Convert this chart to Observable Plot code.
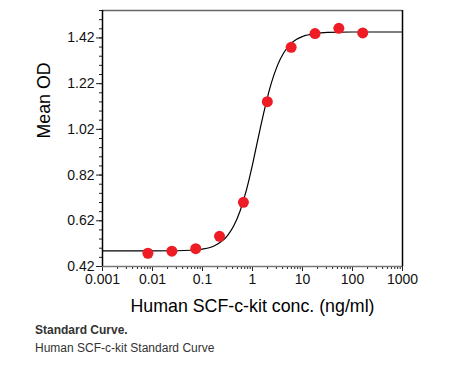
<!DOCTYPE html>
<html>
<head>
<meta charset="utf-8">
<script src="https://cdn.jsdelivr.net/npm/d3@7"></script>
<script src="https://cdn.jsdelivr.net/npm/@observablehq/plot@0.6"></script>
<style>
  body { margin: 0; background: #fff; font-family: "Liberation Sans", Arial, sans-serif; }
  #caption { padding-left: 35px; margin-top: 1px; color: #333; font-size: 12px; line-height: 18px; }
  #caption b { font-weight: bold; }
</style>
</head>
<body>
<div id="chart"></div>
<div id="caption"><b>Standard Curve.</b><br>Human SCF-c-kit Standard Curve</div>
<script>
// Measured points (concentration ng/ml, mean OD)
const conc = [0.0081, 0.0244, 0.0732, 0.219, 0.658, 1.98, 5.93, 17.8, 53.3, 160];
const od   = [0.478, 0.487, 0.498, 0.552, 0.701, 1.141, 1.379, 1.439, 1.462, 1.442];

// Fitted curve
const curveX = [0.001, 0.01, 0.0316, 0.0562, 0.1, 0.178, 0.316, 0.422, 0.562, 0.75, 1, 1.33, 1.78, 2.37, 3.16, 4.22, 5.62, 7.5, 10, 17.8, 31.6, 100, 1000];
const curveY = [0.488, 0.488, 0.489, 0.491, 0.496, 0.512, 0.555, 0.598, 0.662, 0.752, 0.866, 0.993, 1.116, 1.221, 1.300, 1.355, 1.391, 1.413, 1.426, 1.439, 1.444, 1.446, 1.446];

// Tick values
const xMajor = [0.001, 0.01, 0.1, 1, 10, 100, 1000];
const xMinor = [];
for (let d = 0.001; d < 999; d *= 10) for (let m = 2; m <= 9; m++) xMinor.push(+(d * m).toPrecision(2));
const yMajor = [0.42, 0.62, 0.82, 1.02, 1.22, 1.42];
const yMinor = d3.range(0, 29).map(i => +(0.42 + i * 0.04).toFixed(2));

const xLabel = "Human SCF-c-kit conc. (ng/ml)";
const yLabel = "Mean OD";

const points = conc.map((c, i) => ({c, v: od[i]}));
const curve = curveX.map((c, i) => ({c, v: curveY[i]}));

const chart = Plot.plot({
  width: 471,
  height: 320,
  marginLeft: 102,
  marginRight: 69,
  marginTop: 10,
  marginBottom: 54,
  style: {fontFamily: "'Liberation Sans', Arial, sans-serif", color: "#111", background: "#fff"},
  x: {type: "log", domain: [0.001, 1000]},
  y: {domain: [0.42, 1.54]},
  marks: [
    Plot.axisX({ticks: xMinor, tickSize: 3, tickFormat: () => "", label: null, stroke: "#222"}),
    Plot.axisX({ticks: xMajor, tickSize: 5, tickPadding: 3, fontSize: 14, label: null, stroke: "#222",
      tickFormat: d => ({0.001: "0.001", 0.01: "0.01", 0.1: "0.1", 1: "1", 10: "10", 100: "100", 1000: "1000"})[d]}),
    Plot.axisY({ticks: yMinor, tickSize: 3, tickFormat: () => "", label: null, stroke: "#222"}),
    Plot.axisY({ticks: yMajor, tickSize: 6, tickPadding: 2, fontSize: 14, label: null, stroke: "#222",
      tickFormat: d => d.toFixed(2)}),
    Plot.ruleY([0.42], {stroke: "#777", strokeWidth: 1.5}),
    Plot.ruleY([1.54], {stroke: "#666", strokeWidth: 1.5}),
    Plot.ruleX([1000], {stroke: "#000", strokeWidth: 1.5}),
    Plot.ruleX([0.001], {stroke: "#000", strokeWidth: 1.5}),
    Plot.line(curve, {x: "c", y: "v", curve: "monotone-x", stroke: "#000", strokeWidth: 1.2}),
    Plot.dot(points, {x: "c", y: "v", r: 5.5, fill: "#ee1c25", stroke: "none"}),
    Plot.text([xLabel], {frameAnchor: "bottom", dy: 45, fontSize: 17.8, fill: "#000", text: d => d}),
    Plot.text([yLabel], {frameAnchor: "left", dx: -58, rotate: -90, fontSize: 17.8, fill: "#000", text: d => d})
  ]
});
document.getElementById("chart").appendChild(chart);
</script>
</body>
</html>
